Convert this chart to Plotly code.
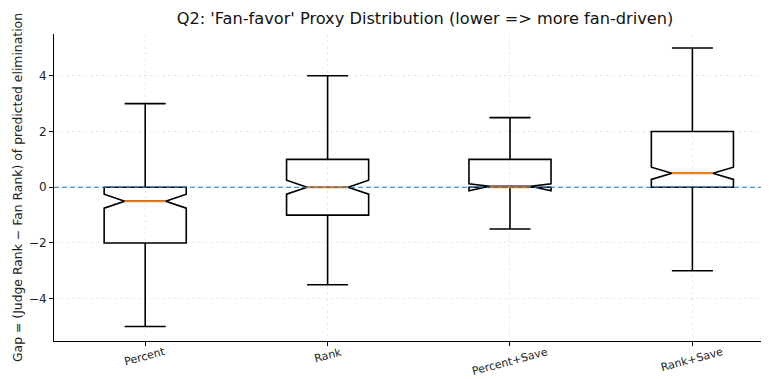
import plotly.graph_objects as go

# ---- data ----
categories = ["Percent", "Rank", "Percent+Save", "Rank+Save"]
positions = [1, 2, 3, 4]
q1 = [-2.0, -1.0, 0.0, 0.0]
median = [-0.5, 0.0, 0.0, 0.5]
q3 = [0.0, 1.0, 1.0, 2.0]
lowerfence = [-5.0, -3.5, -1.5, -3.0]
upperfence = [3.0, 4.0, 2.5, 5.0]
notchspan = [0.25, 0.25, 0.125, 0.22]
ytick_vals = [-4, -2, 0, 2, 4]
ytick_text = ["\u22124", "\u22122", "0", "2", "4"]

# ---- style ----
BOX_WIDTH = 0.45
FONT = "DejaVu Sans"
# the page body adds an 8px offset, so the figure is drawn 8px smaller
W, H = 761, 371

fig = go.Figure()
fig.add_trace(go.Box(
    x=positions, q1=q1, median=median, q3=q3,
    lowerfence=lowerfence, upperfence=upperfence,
    notchspan=notchspan, notched=True, notchwidth=0.25,
    width=BOX_WIDTH, whiskerwidth=0.5,
    line=dict(color="black", width=1.6),
    fillcolor="rgba(255,255,255,0)",
    boxpoints=False, hoverinfo="skip", showlegend=False,
))

# orange median segments spanning the notch waist
mx, my = [], []
half = BOX_WIDTH * 0.25
for p, m in zip(positions, median):
    mx += [p - half, p + half, None]
    my += [m, m, None]
fig.add_trace(go.Scatter(x=mx, y=my, mode="lines",
                         line=dict(color="#ff7f0e", width=2),
                         hoverinfo="skip", showlegend=False))

fig.add_shape(type="line", xref="paper", x0=0, x1=1, yref="y", y0=0, y1=0,
              line=dict(color="#1f77b4", width=1.1, dash="5px,3px"))

# category labels, rotated about their centre like matplotlib
for p, c in zip(positions, categories):
    fig.add_annotation(x=p, xref="x", y=0, yref="paper", text=c,
                       showarrow=False, textangle=-15, borderpad=0,
                       xanchor="center", yanchor="top", yshift=-3,
                       font=dict(size=11, family=FONT, color="#222"))

fig.update_layout(
    width=W, height=H,
    margin=dict(l=46, r=0, t=26, b=38),
    paper_bgcolor="white", plot_bgcolor="white",
    font=dict(family=FONT, color="#222", size=11),
    title=dict(text="Q2: 'Fan-favor' Proxy Distribution (lower => more fan-driven)",
               x=417 / W, xanchor="center", xref="container",
               y=1 - 10 / H, yanchor="middle", yref="container",
               font=dict(size=16.2, family=FONT, color="#111")),
)
fig.update_xaxes(
    range=[0.5, 4.42], tickmode="array", tickvals=positions, showticklabels=False,
    showline=True, linecolor="black", linewidth=1, automargin=False,
    ticks="outside", ticklen=4, tickcolor="black",
    showgrid=True, gridcolor="rgba(0,0,0,0.08)", griddash="dot", gridwidth=1,
    zeroline=False,
)
fig.update_yaxes(
    range=[-5.52, 5.5], tickmode="array", tickvals=ytick_vals, ticktext=ytick_text,
    showline=True, linecolor="black", linewidth=1, automargin=False,
    ticks="outside", ticklen=4, tickcolor="black",
    showgrid=True, gridcolor="rgba(0,0,0,0.08)", griddash="dot", gridwidth=1,
    zeroline=False, tickfont=dict(size=12),
    title=dict(text="Gap = (Judge Rank \u2212 Fan Rank) of predicted elimination",
               font=dict(size=12.4), standoff=3),
)

fig.write_html("out.html")
